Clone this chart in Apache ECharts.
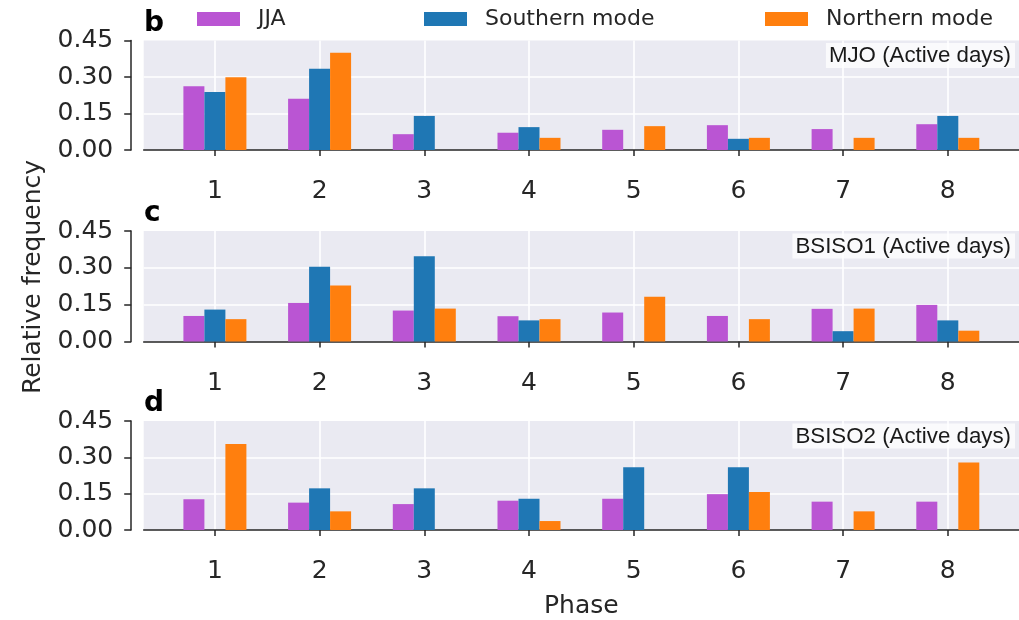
<!DOCTYPE html>
<html>
<head>
<meta charset="utf-8">
<script src="https://cdn.jsdelivr.net/npm/echarts@6/dist/echarts.min.js"></script>
<style>
  html, body { margin: 0; padding: 0; background: #ffffff; }
  #chart { width: 1019px; height: 620px; }
</style>
</head>
<body>
<div id="chart"></div>
<script>
// ---- data ----
const phases = [1, 2, 3, 4, 5, 6, 7, 8];
const yTicks = [0, 0.15, 0.30, 0.45];
const seriesNames = ['JJA', 'Southern mode', 'Northern mode'];
const panelLetters = ['b', 'c', 'd'];
const panelLabels = ['MJO (Active days)', 'BSISO1 (Active days)', 'BSISO2 (Active days)'];

const mjoJJA   = [0.262, 0.211, 0.065, 0.071, 0.083, 0.102, 0.086, 0.106];
const mjoSouth = [0.238, 0.334, 0.140, 0.094, 0,     0.046, 0,     0.140];
const mjoNorth = [0.299, 0.400, 0,     0.050, 0.098, 0.050, 0.050, 0.050];

const bsiso1JJA   = [0.104, 0.157, 0.126, 0.103, 0.118, 0.104, 0.133, 0.149];
const bsiso1South = [0.130, 0.304, 0.347, 0.086, 0,     0,     0.042, 0.086];
const bsiso1North = [0.091, 0.228, 0.134, 0.091, 0.182, 0.091, 0.134, 0.044];

const bsiso2JJA   = [0.127, 0.113, 0.107, 0.121, 0.129, 0.148, 0.117, 0.117];
const bsiso2South = [0,     0.172, 0.172, 0.129, 0.259, 0.259, 0,     0];
const bsiso2North = [0.355, 0.077, 0,     0.037, 0,     0.157, 0.077, 0.279];

const panels = [
  [mjoJJA, mjoSouth, mjoNorth],
  [bsiso1JJA, bsiso1South, bsiso1North],
  [bsiso2JJA, bsiso2South, bsiso2North]
];

// ---- style / layout ----
const colors = ['#BA55D3', '#1F77B4', '#FF7F0E'];
const ink = '#262626';
const gridTops = [40.5, 231, 421];
const gridHeights = [109.5, 110.5, 111];
const gridLeft = 143.7;
const gridWidth = 875.8;

const chart = echarts.init(document.getElementById('chart'), null, { renderer: 'canvas' });

const grids = [], xAxes = [], yAxes = [], series = [], titles = [];
panels.forEach((panel, i) => {
  grids.push({
    left: gridLeft, top: gridTops[i], width: gridWidth, height: gridHeights[i],
    show: true, backgroundColor: '#EAEAF2', borderWidth: 0, containLabel: false
  });
  xAxes.push({
    type: 'value', gridIndex: i, min: 0.32, max: 8.68, offset: 14,
    name: i === 2 ? 'Phase' : '',
    nameLocation: 'middle', nameGap: 50,
    nameTextStyle: { fontSize: 25, fontFamily: 'DejaVu Sans', color: ink },
    axisLine: { show: true, lineStyle: { color: ink, width: 1.5 } },
    axisTick: { show: true, length: 6, customValues: phases, lineStyle: { color: ink, width: 1.5 } },
    axisLabel: { show: true, customValues: phases, fontSize: 25, fontFamily: 'DejaVu Sans', color: ink, margin: 15,
                 formatter: v => String(Math.round(v)) },
    splitLine: { show: true, lineStyle: { color: '#ffffff', width: 1.6 } }
  });
  yAxes.push({
    type: 'value', gridIndex: i, min: 0, max: 0.45, interval: 0.15, offset: 12.5,
    axisLine: { show: true, lineStyle: { color: ink, width: 1.5 } },
    axisTick: { show: true, length: 7, customValues: yTicks, lineStyle: { color: ink, width: 1.5 } },
    axisLabel: { show: true, customValues: yTicks, fontSize: 25, fontFamily: 'DejaVu Sans', color: ink, margin: 18,
                 formatter: v => v.toFixed(2) },
    splitLine: { show: true, showMinLine: false, showMaxLine: false, lineStyle: { color: '#ffffff', width: 1.6 } }
  });
  panel.forEach((arr, s) => {
    series.push({
      type: 'bar', name: seriesNames[s], xAxisIndex: i, yAxisIndex: i,
      barWidth: 21, barGap: '0%',
      itemStyle: { color: colors[s] },
      data: phases.map((p, k) => [p, arr[k]])
    });
  });
  titles.push({
    text: panelLetters[i], left: 144, top: gridTops[i] - 31, padding: 0,
    textStyle: { fontSize: 28, fontWeight: 'bold', fontFamily: 'DejaVu Sans', color: '#000' }
  });
  titles.push({
    text: panelLabels[i], right: 4, top: gridTops[i] + 2.5, padding: [2, 4, 1, 3],
    backgroundColor: 'rgba(255,255,255,0.75)',
    textStyle: { fontSize: 22.3, fontWeight: 'normal', fontFamily: 'Liberation Sans', color: '#1a1a1a' }
  });
});

const legendLefts = [197, 424, 765];
const legends = seriesNames.map((n, k) => ({
  data: [n], left: legendLefts[k], top: 8, padding: 0,
  icon: 'rect', itemWidth: 43, itemHeight: 14,
  selectedMode: false,
  textStyle: { fontSize: 22, fontFamily: 'DejaVu Sans', color: ink, padding: [0, 0, 0, 13] }
}));

chart.setOption({
  animation: false,
  color: colors,
  title: titles,
  legend: legends,
  grid: grids,
  xAxis: xAxes,
  yAxis: yAxes,
  series: series,
  graphic: [{
    type: 'text', x: 33, y: 277, rotation: Math.PI / 2,
    style: { text: 'Relative frequency', fontSize: 25, fontFamily: 'DejaVu Sans', fill: ink,
             textAlign: 'center', textVerticalAlign: 'middle' }
  }]
});
</script>
</body>
</html>
